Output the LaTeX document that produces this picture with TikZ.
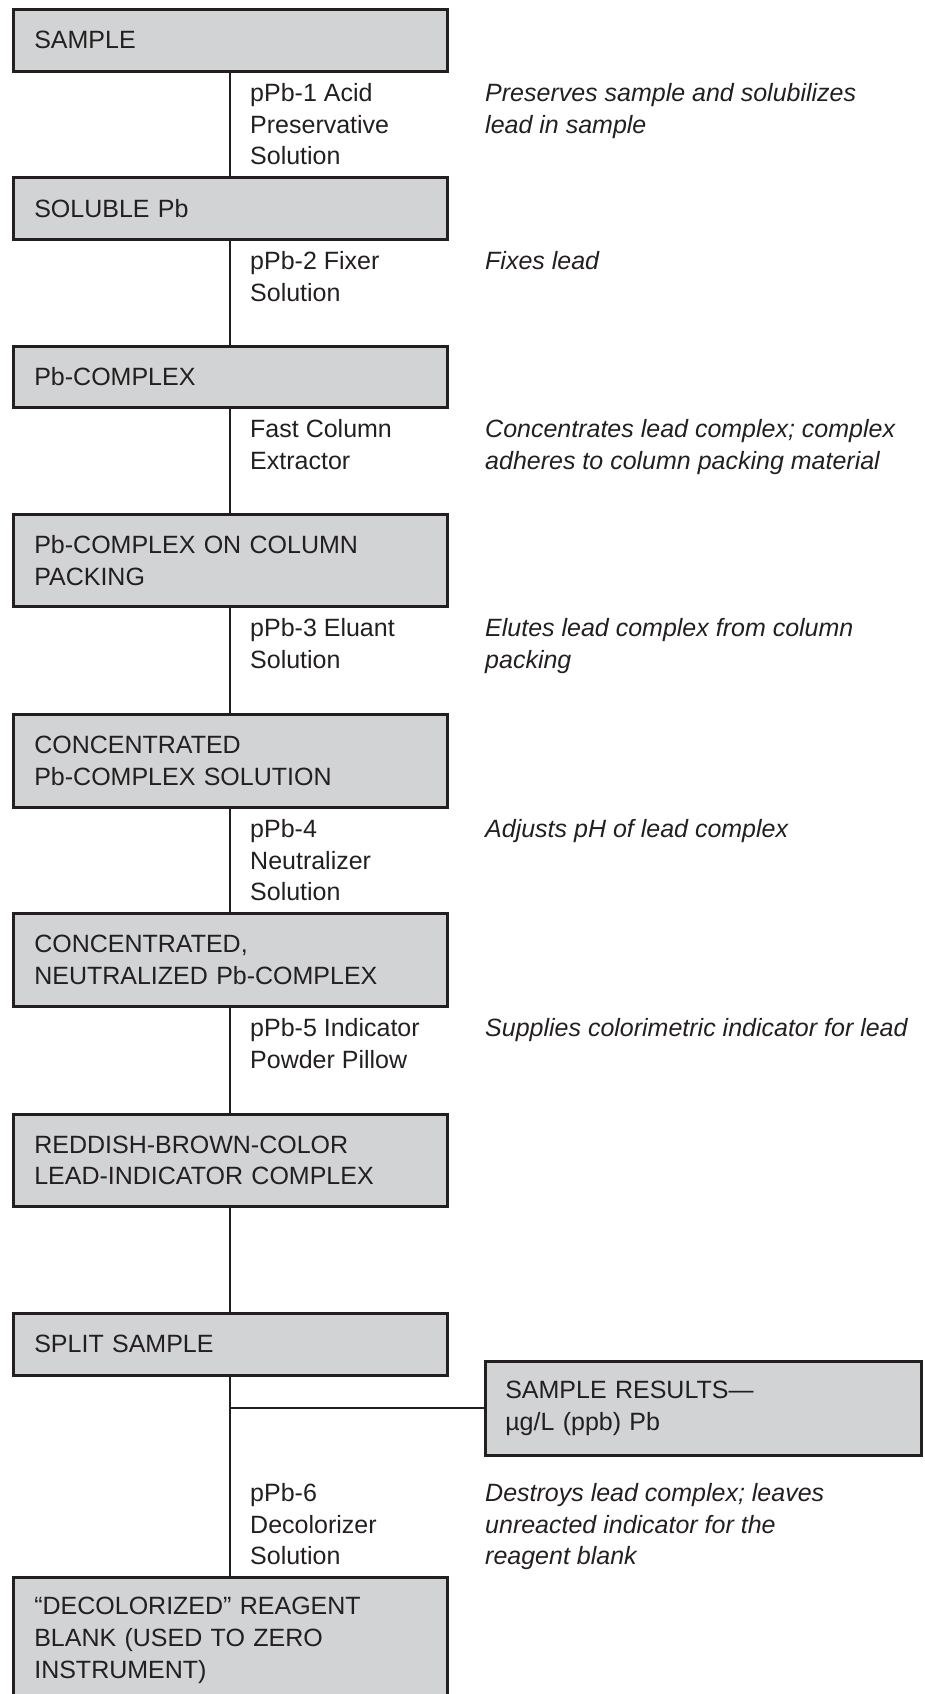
\documentclass[tikz,border=0pt]{standalone}
\usepackage{fontspec}
\setmainfont{Liberation Sans}
\usetikzlibrary{positioning}
\definecolor{box-gray}{RGB}{209, 211, 212}
\definecolor{ink}{RGB}{35, 31, 32}
\newcommand{\flowsize}{\fontsize{25}{31.7}\selectfont}
\tikzset{
  stage/.style={draw=ink, fill=box-gray, line width=2.6pt, inner xsep=21pt, inner ysep=0pt,
    text width=392pt, align=left, anchor=north west, text=ink},
  reagent/.style={anchor=north west, align=left, inner sep=0pt, text=ink},
  effect/.style={reagent, font=\flowsize\itshape},
  link/.style={draw=ink, line width=2pt}
}

\begin{document}
\begin{tikzpicture}[x=1pt, y=-1pt, font=\flowsize]
\useasboundingbox (0,0) rectangle (924,1694);
% stages
\node[stage, minimum height=62pt] (sample) at (12,8) {SAMPLE};
\node[stage, minimum height=62pt] (soluble) at (12,176) {SOLUBLE Pb};
\node[stage, minimum height=61pt] (complex) at (12,345) {Pb-COMPLEX};
\node[stage, minimum height=92pt] (oncolumn) at (12,513) {Pb-COMPLEX ON COLUMN\\PACKING};
\node[stage, minimum height=93pt] (concentrated) at (12,713) {CONCENTRATED\\Pb-COMPLEX SOLUTION};
\node[stage, minimum height=93pt] (neutralized) at (12,912) {CONCENTRATED,\\NEUTRALIZED Pb-COMPLEX};
\node[stage, minimum height=92pt] (indicator) at (12,1113) {REDDISH-BROWN-COLOR\\LEAD-INDICATOR COMPLEX};
\node[stage, minimum height=62pt] (split) at (12,1312) {SPLIT SAMPLE};
\node[stage, minimum height=94pt, inner xsep=20pt, text width=396pt] (results) at (484,1360) {SAMPLE RESULTS---\\µg/L (ppb) Pb};
\node[stage, minimum height=126pt] (blank) at (12,1576) {``DECOLORIZED'' REAGENT\\BLANK (USED TO ZERO\\INSTRUMENT)};
% connectors
\draw[link] (sample) -- (soluble);
\draw[link] (soluble) -- (complex);
\draw[link] (complex) -- (oncolumn);
\draw[link] (oncolumn) -- (concentrated);
\draw[link] (concentrated) -- (neutralized);
\draw[link] (neutralized) -- (indicator);
\draw[link] (indicator) -- (split);
\draw[link] (split) -- (blank);
\draw[link] (results.west -| split) -- (results);
% reagents and what they do
\node[reagent] (acid) at (250,83) {pPb-1 Acid\\Preservative\\Solution};
\node[effect] (acid-note) at (485,83) {Preserves sample and solubilizes\\lead in sample};
\node[reagent] (fixer) at (250,251) {pPb-2 Fixer\\Solution};
\node[effect] (fixer-note) at (485,251) {Fixes lead};
\node[reagent] (extractor) at (250,419) {Fast Column\\Extractor};
\node[effect] (extractor-note) at (485,419) {Concentrates lead complex; complex\\adheres to column packing material};
\node[reagent] (eluant) at (250,618) {pPb-3 Eluant\\Solution};
\node[effect] (eluant-note) at (485,618) {Elutes lead complex from column\\packing};
\node[reagent] (neutralizer) at (250,819) {pPb-4\\Neutralizer\\Solution};
\node[effect] (neutralizer-note) at (485,819) {Adjusts pH of lead complex};
\node[reagent] (powder) at (250,1018) {pPb-5 Indicator\\Powder Pillow};
\node[effect] (powder-note) at (485,1018) {Supplies colorimetric indicator for lead};
\node[reagent] (decolorizer) at (250,1483) {pPb-6\\Decolorizer\\Solution};
\node[effect] (decolorizer-note) at (485,1483) {Destroys lead complex; leaves\\unreacted indicator for the\\reagent blank};
\end{tikzpicture}
\end{document}
